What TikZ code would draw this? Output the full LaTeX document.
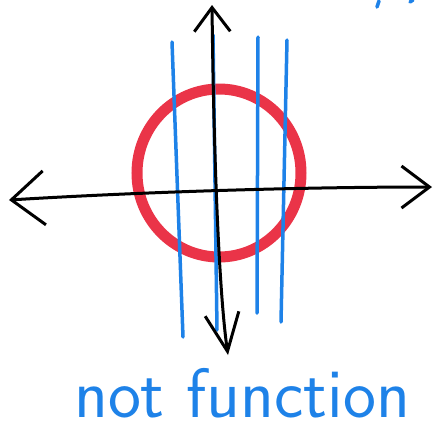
\documentclass[tikz,border=0pt]{standalone}
\usetikzlibrary{arrows.meta}
\definecolor{inkblue}{RGB}{30,130,232}
\definecolor{inkred}{RGB}{234,52,72}

\begin{document}
\begin{tikzpicture}[
  x=1pt, y=-1pt,
  axis/.style={line width=3pt, black, line cap=round},
  ring/.style={line width=11pt, draw=inkred},
  vline/.style={line width=3.5pt, draw=inkblue, line cap=round},
  caption/.style={font=\sffamily\fontsize{70}{70}\selectfont, text=inkblue, inner sep=0pt},
]
\useasboundingbox (0,0) rectangle (434,432);

% ---- axes
\coordinate (xleft)  at (9,200);
\coordinate (xright) at (432,187);
\coordinate (ytop)   at (212,5);
\coordinate (ybot)   at (228,355);

% ---- the circle
\draw[ring] (219,173) ellipse [x radius=82, y radius=84];

% ---- vertical lines
\coordinate (v1a) at (172,42);  \coordinate (v1b) at (183,337);
\coordinate (v2a) at (213,35);  \coordinate (v2b) at (217,330);
\coordinate (v3a) at (258,37);  \coordinate (v3b) at (257,313);
\coordinate (v4a) at (287,40);  \coordinate (v4b) at (281,322);
\foreach \v in {v1,v2,v3,v4}
  \draw[vline] (\v a) -- (\v b);

\draw[axis, {Straight Barb[length=33pt, width=54pt, line width=3pt]}-{Straight Barb[length=28pt, width=42pt, line width=3pt]}]
  (xleft) .. controls (140,192) and (300,187) .. (xright);
\draw[axis, {Straight Barb[length=24pt, width=36pt, line width=3pt]}-{Straight Barb[length=38pt, width=34pt, line width=3pt]}]
  (ytop) .. controls (214,180) and (220,300) .. (ybot);

% ---- label
\node[caption, anchor=base west] (cap) at (74,417) {not function};

% ---- cut-off marks at the top right
\draw[vline] (379,1) -- (377,7);
\draw[vline] (413,0) -- (410,2);
\end{tikzpicture}
\end{document}
